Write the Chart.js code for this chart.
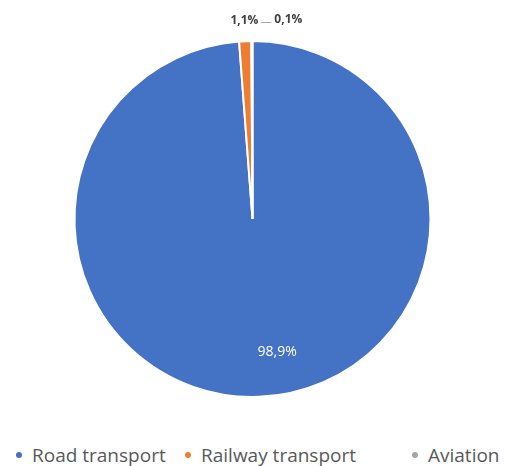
<!DOCTYPE html>
<html>
<head>
<meta charset="utf-8">
<title>Transport shares</title>
<script src="https://cdn.jsdelivr.net/npm/chart.js@4.4.1/dist/chart.umd.min.js"></script>
<style>
  html, body { margin: 0; padding: 0; background: #fff; }
  #wrap { position: relative; width: 505px; height: 466px; overflow: hidden; }
  #chart-box { position: absolute; left: 0; top: 0; width: 505px; height: 430px; }
  #legend {
    position: absolute; left: 0; top: 443px; width: 505px; height: 24px;
    font-family: "Open Sans", "Noto Sans", sans-serif; font-size: 19px; color: #595959;
  }
  #legend .item { position: absolute; top: 0; display: flex; align-items: center; white-space: nowrap; line-height: 24px; }
  #legend .item:nth-child(1) { left: 16px; }
  #legend .item:nth-child(2) { left: 185px; }
  #legend .item:nth-child(3) { left: 412px; }
  #legend .dot { width: 6px; height: 6px; border-radius: 50%; margin-right: 10px; }
</style>
</head>
<body>
<div id="wrap">
  <div id="chart-box"><canvas id="pieChart"></canvas></div>
  <div id="legend"></div>
</div>
<script>
  const categories = ["Road transport", "Railway transport", "Aviation"];
  const shares = [98.9, 1.1, 0.1];
  const sliceColors = ["#4472C4", "#ED7D31", "#A5A5A5"];

  // "98,9%" style text
  const pctText = v => v.toFixed(1).replace(".", ",") + "%";

  // Percent labels: big slice inside, small slices outside the rim,
  // nudged right (with a leader) when they would collide
  const sliceLabels = {
    id: "sliceLabels",
    afterDatasetsDraw(chart) {
      const ctx = chart.ctx;
      const arcs = chart.getDatasetMeta(0).data;
      let lastRight = null;
      ctx.save();
      ctx.textBaseline = "middle";
      arcs.forEach((arc, i) => {
        const { x, y, startAngle, endAngle, outerRadius } =
          arc.getProps(["x", "y", "startAngle", "endAngle", "outerRadius"], true);
        const mid = (startAngle + endAngle) / 2;
        const text = pctText(shares[i]);
        if (shares[i] > 50) {
          ctx.font = "14px 'Open Sans'";
          ctx.fillStyle = "#ffffff";
          ctx.textAlign = "left";
          const r = outerRadius * 0.75;
          ctx.fillText(text, x + Math.cos(mid) * r, y + Math.sin(mid) * r);
          return;
        }
        ctx.font = "bold 12px 'Open Sans'";
        ctx.fillStyle = "#404040";
        ctx.textAlign = "left";
        const r = outerRadius + 21;
        const w = ctx.measureText(text).width;
        const ly = y + Math.sin(mid) * r;
        let left = x + Math.cos(mid) * r - w / 2;
        if (lastRight !== null && left < lastRight + 4) {
          const shifted = lastRight + 16;
          ctx.strokeStyle = "#a6a6a6";
          ctx.lineWidth = 1;
          ctx.beginPath();
          ctx.moveTo(lastRight + 3, ly + 2.5);
          ctx.lineTo(shifted - 3, ly + 2.5);
          ctx.stroke();
          left = shifted;
        }
        ctx.fillText(text, left, ly);
        lastRight = left + w;
      });
      ctx.restore();
    }
  };

  const chart = new Chart(document.getElementById("pieChart"), {
    type: "pie",
    data: {
      labels: categories,
      datasets: [{
        data: shares,
        backgroundColor: sliceColors,
        borderColor: "#ffffff",
        borderWidth: 2,
        hoverOffset: 0
      }]
    },
    options: {
      responsive: true,
      maintainAspectRatio: false,
      animation: false,
      layout: { padding: { top: 40, bottom: 32 } },
      plugins: {
        legend: { display: false },
        tooltip: { enabled: false }
      }
    },
    plugins: [sliceLabels]
  });

  // Legend row built from the chart's own labels and colours
  const legendEl = document.getElementById("legend");
  chart.data.labels.forEach((label, i) => {
    const item = document.createElement("div");
    item.className = "item";
    const dot = document.createElement("span");
    dot.className = "dot";
    dot.style.background = chart.data.datasets[0].backgroundColor[i];
    const txt = document.createElement("span");
    txt.textContent = label;
    item.appendChild(dot);
    item.appendChild(txt);
    legendEl.appendChild(item);
  });
</script>
</body>
</html>
